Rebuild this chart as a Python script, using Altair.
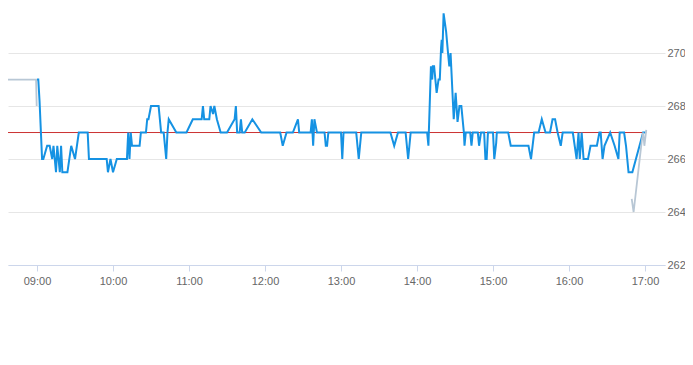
import altair as alt
import pandas as pd

DAY = "2024-01-02T"

blue_times = ["09:00", "09:01", "09:02", "09:04", "09:05", "09:08", "09:10", "09:12", "09:13", "09:15",
              "09:16", "09:18", "09:19", "09:20", "09:24", "09:27", "09:30", "09:33", "09:40", "09:41",
              "09:55", "09:56", "09:58", "10:00", "10:03", "10:11", "10:12", "10:13", "10:14", "10:15",
              "10:21", "10:22", "10:26", "10:27", "10:28", "10:30", "10:36", "10:38", "10:40", "10:42",
              "10:43", "10:44", "10:50", "10:58", "11:03", "11:10", "11:11", "11:12", "11:16", "11:17",
              "11:19", "11:20", "11:22", "11:25", "11:30", "11:36", "11:37", "11:38", "11:40", "11:41",
              "11:42", "11:44", "11:50", "11:57", "12:12", "12:14", "12:17", "12:22", "12:26", "12:27",
              "12:36", "12:37", "12:38", "12:39", "12:41", "12:47", "12:48", "12:49", "12:50", "13:00",
              "13:01", "13:02", "13:12", "13:14", "13:16", "13:39", "13:42", "13:45", "13:51", "13:53",
              "13:55", "14:08", "14:09", "14:11", "14:12", "14:12:30", "14:13:30", "14:14:30", "14:15:30", "14:17",
              "14:18", "14:19", "14:19:30", "14:20", "14:21", "14:23", "14:24:30", "14:25:30", "14:26:30", "14:29",
              "14:30:30", "14:32", "14:33:30", "14:35", "14:37", "14:37:30", "14:38:30", "14:42", "14:43", "14:44",
              "14:48", "14:49", "14:50:30", "14:53", "14:54", "14:55", "14:56", "15:00", "15:01", "15:02:30",
              "15:03", "15:05", "15:12", "15:14", "15:28", "15:30", "15:32:30", "15:36", "15:38:30", "15:41:30",
              "15:45", "15:47", "15:49", "15:51", "15:53:30", "15:55", "16:03", "16:06", "16:07:30", "16:08:30",
              "16:10", "16:11:30", "16:15", "16:17", "16:22", "16:24", "16:25", "16:26:30", "16:28", "16:32:30",
              "16:36", "16:39", "16:40", "16:43:30", "16:45", "16:47", "16:50", "16:58:30", "17:00:30"]
blue_vals = [269, 269, 268.2, 266, 266, 266.5, 266.5, 266, 266.5, 265.5,
             266.5, 265.5, 266.5, 265.5, 265.5, 266.5, 266, 267, 267, 266,
             266, 265.5, 266, 265.5, 266, 266, 267, 266, 267, 266.5,
             266.5, 267, 267, 267.5, 267.5, 268, 268, 267, 267, 266,
             267, 267.5, 267, 267, 267.5, 267.5, 268, 267.5, 267.5, 268,
             267.7, 268, 267.5, 267, 267, 267.5, 268, 267, 267, 267.5,
             267, 267, 267.5, 267, 267, 266.5, 267, 267, 267.5, 267,
             267, 267.5, 266.5, 267.5, 267, 267, 266.5, 266.5, 267, 267,
             266, 267, 267, 266, 267, 267, 266.5, 267, 267, 266,
             267, 267, 266.5, 269.5, 269, 269.5, 269.5, 269, 268.5, 269,
             269, 270.2, 270.5, 270, 271.5, 270.8, 270, 269.5, 270, 267.5,
             268.5, 267.4, 268, 268, 267, 266.5, 267, 267, 266.5, 267,
             267, 266.5, 267, 267, 266, 266, 267, 267, 266, 266.6,
             267, 267, 267, 266.5, 266.5, 266, 267, 267, 267.5, 267,
             267, 267.5, 267.5, 267, 266.5, 267, 267, 266, 267, 266,
             267, 266, 266, 266.5, 266.5, 267, 267, 266, 266.5, 267,
             266.5, 266, 267, 267, 266.5, 265.5, 265.5, 267, 267]

grey_open_times = ["08:30:45", "08:31:30", "08:59:15", "08:59:45"]
grey_open_vals = [268.1, 269, 269, 268]
grey_close_times = ["16:49:30", "16:51", "16:57:30", "16:58:30", "16:59:30", "17:01"]
grey_close_vals = [264.5, 264.0, 266.7, 267.0, 266.5, 267.1]

ref_value = 267
ref_start, ref_end = "08:30:45", "17:01"

y_ticks = [262, 264, 266, 268, 270]
x_tick_hours = [9, 10, 11, 12, 13, 14, 15, 16, 17]


def ts(t):
    if t.count(":") == 1:
        t = t + ":00"
    return DAY + t


blue_df = pd.DataFrame({"t": [ts(t) for t in blue_times], "v": blue_vals})
grey_df = pd.DataFrame({
    "t": [ts(t) for t in grey_open_times] + [ts(t) for t in grey_close_times],
    "v": grey_open_vals + grey_close_vals,
    "seg": ["open"] * len(grey_open_times) + ["close"] * len(grey_close_times),
})
ref_df = pd.DataFrame({"t": [ts(ref_start)], "t2": [ts(ref_end)], "v": [ref_value]})

x_scale = alt.Scale(domain=[alt.DateTime(year=2024, month=1, date=2, hours=8, minutes=37, seconds=6),
                            alt.DateTime(year=2024, month=1, date=2, hours=17, minutes=15, seconds=47)])
y_scale = alt.Scale(domain=[262, 271.7], nice=False, zero=False)

x_axis = alt.Axis(
    title=None, format="%H:%M", grid=False,
    values=[alt.DateTime(year=2024, month=1, date=2, hours=h) for h in x_tick_hours],
    domainColor="#ccd6eb", tickColor="#ccd6eb", tickSize=6, labelPadding=4,
    labelColor="#666666", labelFontSize=11, labelFont="Liberation Sans",
)
y_axis = alt.Axis(
    title=None, orient="right", values=y_ticks, domain=False, ticks=False,
    gridColor="#e6e6e6", labelPadding=2, labelColor="#666666", labelFontSize=11,
    labelFont="Liberation Sans",
)

ref = alt.Chart(ref_df).mark_rule(color="#cc3333", strokeWidth=1, clip=True).encode(
    x=alt.X("t:T", scale=x_scale, axis=x_axis),
    x2="t2:T",
    y=alt.Y("v:Q", scale=y_scale, axis=y_axis),
)

blue = alt.Chart(blue_df).mark_line(color="#1592e3", strokeWidth=2, clip=True).encode(
    x=alt.X("t:T", scale=x_scale, axis=x_axis),
    y=alt.Y("v:Q", scale=y_scale, axis=y_axis),
)

grey = alt.Chart(grey_df).mark_line(color="#b8c7d5", strokeWidth=1.8, clip=True).encode(
    x=alt.X("t:T", scale=x_scale, axis=x_axis),
    y=alt.Y("v:Q", scale=y_scale, axis=y_axis),
    detail="seg:N",
)

chart = alt.layer(ref, blue, grey).properties(
    width=657, height=257,
    autosize=alt.AutoSizeParams(type="none"),
    padding={"left": 0, "top": 0, "right": 20, "bottom": 80},
    background="white",
).configure_view(stroke=None)

chart.save("out.html", embed_options={"renderer": "svg", "actions": False})
